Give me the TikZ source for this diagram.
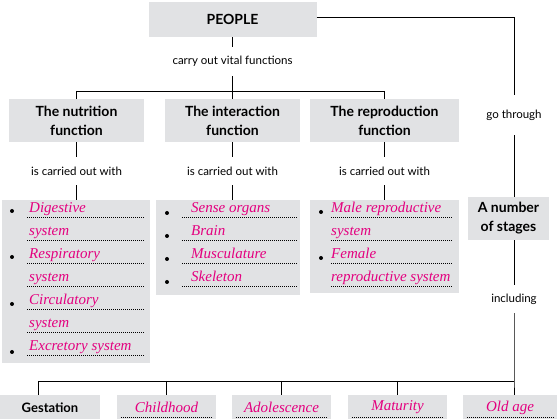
\documentclass[tikz,border=0pt]{standalone}
\usepackage{fontspec}
\setmainfont{Lato}
\newfontfamily\handfont{Liberation Serif}
\usetikzlibrary{positioning}
\definecolor{boxgray}{RGB}{225,226,228}
\definecolor{pinky}{RGB}{228,0,127}

\begin{document}
\begin{tikzpicture}[x=1pt, y=-1pt,
    titlebox/.style={rectangle, fill=boxgray, align=center, inner sep=0pt, font=\fontsize{14}{19}\selectfont\bfseries},
    label/.style={rectangle, inner sep=0pt, font=\fontsize{11.5}{14}\selectfont},
    listbox/.style={rectangle, fill=boxgray, inner sep=0pt},
    stagebox/.style={rectangle, fill=boxgray, inner sep=0pt, minimum height=25pt},
    entry/.style={anchor=base west, inner sep=0pt, text=pinky, font=\fontsize{15}{18}\selectfont\handfont\itshape},
    pinkstage/.style={stagebox, text=pinky, font=\fontsize{15}{18}\selectfont\handfont\itshape},
    dotline/.style={line width=0.6pt, dash pattern=on 0.6pt off 1.4pt},
    conn/.style={line width=0.8pt}
]
\useasboundingbox (0,0) rectangle (557,419);

% People
\node[titlebox, minimum width=168pt, minimum height=35pt] (people) at (232.5,19.5) {PEOPLE};
\node[label, minimum height=29pt] (vital) at (232.5,61.5) {carry out vital functions};

% Functions
\node[titlebox, minimum width=135pt, minimum height=43pt] (nutri) at (76.5,120.5) {The nutrition\\function};
\node[titlebox, minimum width=135pt, minimum height=43pt] (inter) at (232.5,120.5) {The interaction\\function};
\node[titlebox, minimum width=149pt, minimum height=43pt] (repro) at (384.5,120.5) {The reproduction\\function};

% Carried out with
\node[label, minimum height=28pt] (nutriwith) at (76.5,171) {is carried out with};
\node[label, minimum height=28pt] (interwith) at (232.5,171) {is carried out with};
\node[label, minimum height=28pt] (reprowith) at (384.5,171) {is carried out with};

% Lists
\node[listbox, minimum width=148pt, minimum height=163pt] (nutrilist) at (76,281.5) {};
\node[listbox, minimum width=144pt, minimum height=95pt] (interlist) at (228,247.5) {};
\node[listbox, minimum width=149pt, minimum height=93pt] (reprolist) at (384.5,246.5) {};

% Nutrition entries
\foreach \y/\t in {217/Digestive, 240/system, 263/Respiratory, 286/system, 309/Circulatory, 332/system, 355/Excretory system} {
  \node[entry] (nutri\y) at (29,\y-4) {\t};
  \draw[dotline] (27,\y) -- (144,\y);
}
\foreach \y in {211,257,304,352}
  \fill (12,\y) circle (2pt);

% Interaction entries
\foreach \y/\t in {217/Sense organs, 240/Brain, 263/Musculature, 286/Skeleton} {
  \node[entry] (inter\y) at (191,\y-4) {\t};
  \draw[dotline] (182,\y) -- (297,\y);
  \fill (167,\y-4) circle (2pt);
}

% Reproduction entries
\foreach \y/\t in {217/Male reproductive, 240/system, 263/Female, 286/reproductive system} {
  \node[entry] (repro\y) at (331,\y-4) {\t};
  \draw[dotline] (331,\y) -- (452,\y);
}
\foreach \y in {212,258}
  \fill (321,\y) circle (2pt);

% Stages
\node[label, minimum height=40pt] (gothrough) at (514,115) {go through};
\node[titlebox, minimum width=81pt, minimum height=43pt] (stages) at (508.5,218.5) {A number\\of stages};
\node[label, minimum height=28pt] (including) at (514,299) {including};

% Bottom row
\node[stagebox, minimum width=100pt, font=\fontsize{13}{16}\selectfont\bfseries] (gest) at (50,407.5) {Gestation};
\node[pinkstage, minimum width=99pt] (child) at (166.5,407.5) {Childhood};
\node[pinkstage, minimum width=99pt] (adol) at (281.5,407.5) {Adolescence};
\node[pinkstage, minimum width=99pt] (matur) at (397.5,407.5) {Maturity};
\node[pinkstage, minimum width=94pt] (oldage) at (510,407.5) {Old age};
\foreach \n in {child, adol, matur, oldage}
  \draw[dotline] ([shift={(4,-3)}]\n.south west) -- ([shift={(-4,-3)}]\n.south east);

% Connectors
\coordinate (topbus) at (232.5,91);
\coordinate (bus) at (514,381);
\coordinate (gestdrop) at (38,381);
\draw[conn] (people) -- (vital);
\draw[conn] (vital) -- (topbus);
\draw[conn] (nutri.north |- topbus) -- (repro.north |- topbus);
\foreach \n in {nutri, inter, repro} {
  \draw[conn] (\n.north |- topbus) -- (\n.north);
  \draw[conn] (\n) -- (\n with);
}
\draw[conn] (nutriwith) -- (nutriwith.south |- nutrilist.north);
\draw[conn] (interwith) -- (interwith.south |- interlist.north);
\draw[conn] (reprowith) -- (reprowith.south |- reprolist.north);
\draw[conn] ([yshift=2pt]people.east) -| (gothrough.north);
\draw[conn] (gothrough) -- (gothrough.south |- stages.north);
\draw[conn] (including.north |- stages.south) -- (including);
\draw[conn] (including) -- (bus) -- (bus |- oldage.north);
\draw[conn] (gestdrop) -- (bus);
\draw[conn] (gestdrop) -- (gestdrop |- gest.north);
\foreach \n in {child, adol, matur}
  \draw[conn] (\n.north |- bus) -- (\n.north);

\end{tikzpicture}
\end{document}
